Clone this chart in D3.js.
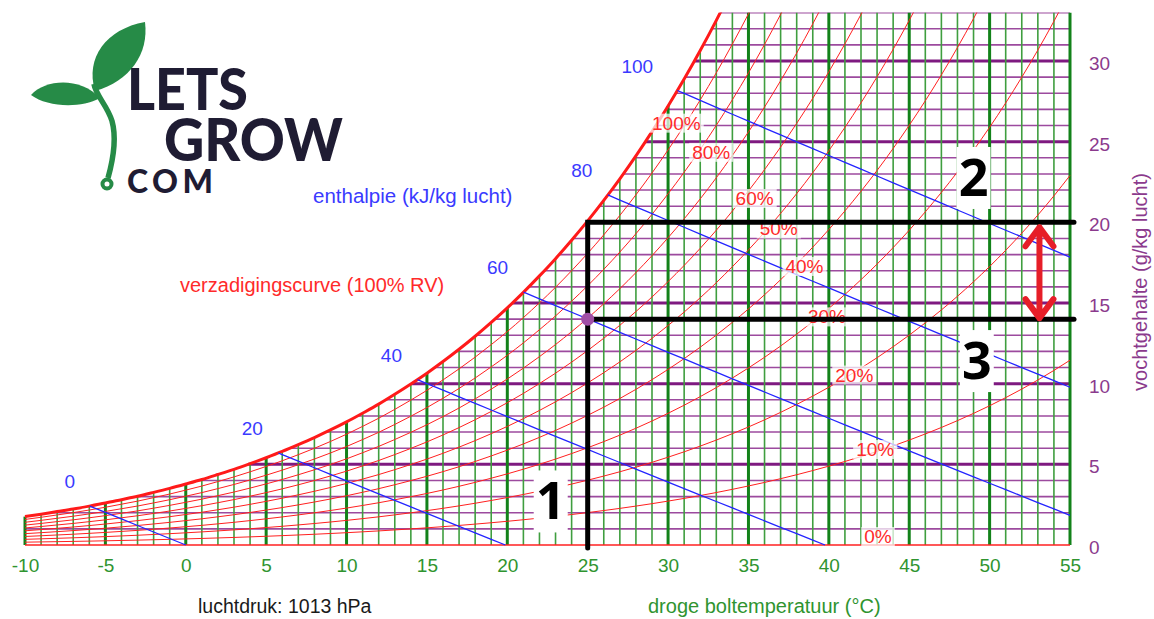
<!DOCTYPE html>
<html>
<head>
<meta charset="utf-8">
<script src="https://cdn.jsdelivr.net/npm/d3@7"></script>
<style>
  body { margin: 0; background: #fff; }
  svg { display: block; font-family: "Liberation Sans", Arial, sans-serif; }
</style>
</head>
<body>
<svg id="chart" width="1154" height="619"></svg>
<script>
// dry bulb temperatures of the 1 °C grid
var temps = d3.range(-10, 56);
// saturation humidity (g/kg) at 1013 hPa, one value per degree from -10 to 55
var satHumidity = [1.76,1.91,2.07,2.23,2.41,2.60,2.81,3.02,3.26,3.51,
  3.78,4.06,4.37,4.69,5.04,5.41,5.80,6.22,6.66,7.13,
  7.63,8.17,8.73,9.34,9.98,10.65,11.37,12.13,12.94,13.80,
  14.70,15.66,16.68,17.75,18.89,20.09,21.36,22.70,24.12,25.62,
  27.21,28.88,30.65,32.52,34.50,36.58,38.78,41.11,43.56,46.15,
  48.89,51.77,54.82,58.04,61.45,65.04,68.84,72.85,77.09,81.58,
  86.31,91.33,96.65,102.26,108.21,114.53];
var humGrid = d3.range(1, 34);            // g/kg lines
var rhLevels = [0, 10, 20, 30, 40, 50, 60, 70, 80, 90];
var enthalpyLevels = [0, 20, 40, 60, 80, 100];
var rhLabelLevels = [100, 80, 60, 50, 40, 30, 20, 10, 0];
var rhLabelTemps = [29.0, 31.5, 34.2, 35.7, 37.3, 38.7, 40.4, 41.7, 42.2];
var tempTicks = d3.range(-10, 56, 5);
var humTicks = [0, 5, 10, 15, 20, 25, 30];
// example: 25 °C air, saturated at 20 g/kg, actually holding 14 g/kg
var exTemp = 25, exSat = 20, exHum = 14, arrowTemp = 53.1;
var stepNames = ["1", "2", "3"];
var stepTemps = [22.7, 49.0, 49.2];
var stepHums = [2.7, 22.75, 11.4];

var svg = d3.select("#chart");
var x = d3.scaleLinear().domain([-10, 55]).range([25, 1070]);
var y = d3.scaleLinear().domain([0, 30]).range([545, 61]);
var topHum = 33;

function satAt(t) {
  var i = Math.max(0, Math.min(temps.length - 2, Math.floor(t + 10)));
  var f = t - temps[i];
  return satHumidity[i] + f * (satHumidity[i + 1] - satHumidity[i]);
}
function satTemp(w) {
  if (w <= satHumidity[0]) return -10;
  for (var i = 0; i < satHumidity.length - 1; i++) {
    if (w <= satHumidity[i + 1])
      return temps[i] + (w - satHumidity[i]) / (satHumidity[i + 1] - satHumidity[i]);
  }
  return 55;
}
// enthalpy per kg moist air -> humidity (g/kg) on a line of constant h
function enthHum(t, h) {
  return 1000 * (h - 1.006 * t) / (2501 + 1.86 * t - h);
}

svg.append("defs").append("clipPath").attr("id", "plot")
  .append("rect")
    .attr("x", x(-10) - 3).attr("y", y(topHum))
    .attr("width", x(55) - x(-10) + 6).attr("height", y(0) - y(topHum) + 3);

var plot = svg.append("g").attr("clip-path", "url(#plot)");

// humidity grid (purple)
plot.selectAll("line.hum")
  .data(humGrid)
  .enter().append("line")
    .attr("class", "hum")
    .attr("x1", function(d) { return x(satTemp(d)); })
    .attr("x2", x(55))
    .attr("y1", function(d) { return y(d); })
    .attr("y2", function(d) { return y(d); })
    .attr("stroke", function(d) { return d % 5 ? "#9c4a9e" : "#7e1a80"; })
    .attr("stroke-width", function(d) { return d % 5 ? 1.6 : 3; });

// temperature grid (green)
plot.selectAll("line.temp")
  .data(temps)
  .enter().append("line")
    .attr("class", "temp")
    .attr("x1", function(d) { return x(d); })
    .attr("x2", function(d) { return x(d); })
    .attr("y1", y(0))
    .attr("y2", function(d, i) { return y(Math.min(satHumidity[i], topHum)); })
    .attr("stroke", function(d) { return d % 5 ? "#3f9e3f" : "#13821a"; })
    .attr("stroke-width", function(d) { return d % 5 ? 1.6 : 3; });

// relative humidity curves
var curve = d3.line()
  .x(function(d, i) { return x(temps[i]); })
  .y(function(d) { return y(d); })
  .curve(d3.curveMonotoneX);

plot.selectAll("path.rh")
  .data(rhLevels)
  .enter().append("path")
    .attr("class", "rh")
    .attr("d", function(rh) { return curve(satHumidity.map(function(s) { return s * rh / 100; })); })
    .attr("fill", "none")
    .attr("stroke", "#ff2020")
    .attr("stroke-width", function(rh) { return rh === 0 ? 1.6 : 1; });

plot.append("path")
  .attr("d", curve(satHumidity))
  .attr("fill", "none")
  .attr("stroke", "#ff1a1a")
  .attr("stroke-width", 3);

// enthalpy lines
var enthLines = enthalpyLevels.map(function(h) {
  var lo = -10, hi = 55;
  for (var k = 0; k < 50; k++) {
    var mid = (lo + hi) / 2;
    if (satAt(mid) > enthHum(mid, h)) hi = mid; else lo = mid;
  }
  var t0 = lo;
  var t1 = Math.min(55, h / 1.006);
  var pts = [[t0, enthHum(t0, h)]];
  temps.forEach(function(t) { if (t > t0 && t < t1) pts.push([t, enthHum(t, h)]); });
  pts.push([t1, Math.max(0, enthHum(t1, h))]);
  return { h: h, start: pts[0], pts: pts };
});

plot.selectAll("path.enth")
  .data(enthLines)
  .enter().append("path")
    .attr("class", "enth")
    .attr("d", function(d) {
      return d3.line().x(function(p) { return x(p[0]); }).y(function(p) { return y(p[1]); })(d.pts);
    })
    .attr("fill", "none")
    .attr("stroke", "#2424ff")
    .attr("stroke-width", 1.3);

svg.selectAll("text.enth")
  .data(enthLines)
  .enter().append("text")
    .attr("class", "enth")
    .attr("x", function(d) { return x(d.start[0]) - (d.h >= 100 ? 40 : d.h === 0 ? 20 : 26); })
    .attr("y", function(d) { return y(d.start[1]) - 18; })
    .attr("text-anchor", "middle")
    .attr("font-size", 19)
    .attr("fill", "#3a3aff")
    .text(function(d) { return d.h; });

// RH labels on white boxes
var rhLab = svg.selectAll("g.rhlab")
  .data(rhLabelLevels)
  .enter().append("g")
    .attr("class", "rhlab")
    .attr("transform", function(rh, i) {
      var t = rhLabelTemps[i];
      return "translate(" + x(t) + "," + (y(satAt(t) * rh / 100) - 2) + ")";
    });
rhLab.append("text")
  .attr("font-size", 19)
  .attr("fill", "#ff2a2a")
  .text(function(rh) { return rh + "%"; });
rhLab.each(function() {
  var g = d3.select(this), b = g.select("text").node().getBBox();
  g.insert("rect", "text")
    .attr("x", b.x - 3).attr("y", b.y + 1)
    .attr("width", b.width + 6).attr("height", b.height - 2)
    .attr("fill", "#fff").attr("fill-opacity", 0.72);
});

// step numbers
var steps = svg.selectAll("g.step")
  .data(stepNames)
  .enter().append("g")
    .attr("class", "step")
    .attr("transform", function(d, i) { return "translate(" + x(stepTemps[i]) + "," + y(stepHums[i]) + ")"; });
steps.append("rect")
  .attr("x", -17).attr("y", -31).attr("width", 34).attr("height", 62)
  .attr("fill", "#fff");
steps.append("text")
  .attr("text-anchor", "middle")
  .attr("y", 18)
  .attr("font-family", "'Open Sans', sans-serif")
  .attr("font-weight", 700)
  .attr("font-size", 52)
  .attr("fill", "#000")
  .text(function(d) { return d; });

// example lines
svg.append("path")
  .attr("d", "M" + x(exTemp) + "," + (y(0) + 3) + "V" + y(exSat) + "H" + (x(55) + 4))
  .attr("fill", "none").attr("stroke", "#000").attr("stroke-width", 5)
  .attr("stroke-linecap", "round");
svg.append("line")
  .attr("x1", x(exTemp)).attr("x2", x(55) + 4)
  .attr("y1", y(exHum)).attr("y2", y(exHum))
  .attr("stroke", "#000").attr("stroke-width", 5).attr("stroke-linecap", "round");
svg.append("circle")
  .attr("cx", x(exTemp)).attr("cy", y(exHum)).attr("r", 6.5)
  .attr("fill", "#a14fa6");

var ax = x(arrowTemp), aTop = y(exSat) + 5, aBot = y(exHum) - 1;
svg.append("path")
  .attr("d", "M" + ax + "," + aTop + "V" + aBot +
    "M" + (ax - 14) + "," + (aTop + 19) + "L" + ax + "," + aTop + "L" + (ax + 14) + "," + (aTop + 19) +
    "M" + (ax - 14) + "," + (aBot - 19) + "L" + ax + "," + aBot + "L" + (ax + 14) + "," + (aBot - 19))
  .attr("fill", "none").attr("stroke", "#e61e28").attr("stroke-width", 6)
  .attr("stroke-linecap", "round").attr("stroke-linejoin", "round");

// axes
var xAxis = svg.append("g")
  .attr("transform", "translate(0," + y(0) + ")")
  .call(d3.axisBottom(x).tickValues(tempTicks).tickSize(0).tickPadding(14)
    .tickFormat(function(d) { return String(d); }));
xAxis.select(".domain").remove();
xAxis.selectAll("text").attr("font-size", 19).attr("fill", "#2f942f")
  .attr("font-family", "'Liberation Sans', Arial, sans-serif");

var yAxis = svg.append("g")
  .attr("transform", "translate(" + x(55) + ",0)")
  .call(d3.axisRight(y).tickValues(humTicks).tickSize(0).tickPadding(19));
yAxis.select(".domain").remove();
yAxis.selectAll("text").attr("font-size", 19).attr("fill", "#8b3a8d").attr("dy", "0.45em")
  .attr("font-family", "'Liberation Sans', Arial, sans-serif");

svg.append("text").attr("x", 198).attr("y", 613).attr("font-size", 19.5)
  .attr("fill", "#1a1a1a").text("luchtdruk: 1013 hPa");
svg.append("text").attr("x", 648).attr("y", 613).attr("font-size", 20)
  .attr("fill", "#2f942f").text("droge boltemperatuur (°C)");
svg.append("text").attr("transform", "translate(1147,282) rotate(-90)")
  .attr("text-anchor", "middle").attr("font-size", 20)
  .attr("fill", "#8b3a8d").text("vochtgehalte (g/kg lucht)");
svg.append("text").attr("x", 313).attr("y", 203).attr("font-size", 20.5)
  .attr("fill", "#3a3aff").text("enthalpie (kJ/kg lucht)");
svg.append("text").attr("x", 180).attr("y", 292).attr("font-size", 20)
  .attr("fill", "#ff2a2a").text("verzadigingscurve (100% RV)");

// logo
var logo = svg.append("g");
logo.append("path")
  .attr("d", "M95,91 C85,58 106,29 145,22 C149,54 130,81 95,91 Z")
  .attr("fill", "#268b47");
logo.append("path")
  .attr("d", "M31,95 C46,79 80,77 100,98 C80,109 47,107 31,95 Z")
  .attr("fill", "#268b47");
logo.append("path")
  .attr("d", "M94,84 C96,96 107,105 112,121 C117,139 113,160 108,178")
  .attr("fill", "none").attr("stroke", "#268b47").attr("stroke-width", 5.5);
logo.append("circle")
  .attr("cx", 107).attr("cy", 184).attr("r", 4.5)
  .attr("fill", "#fff").attr("stroke", "#268b47").attr("stroke-width", 4);
var word = logo.append("text")
  .attr("font-family", "Lato, sans-serif").attr("font-weight", 900)
  .attr("fill", "#1f1c33");
word.append("tspan").attr("x", 127).attr("y", 110).attr("font-size", 58)
  .attr("textLength", 121).attr("lengthAdjust", "spacingAndGlyphs").text("LETS");
word.append("tspan").attr("x", 164).attr("y", 161).attr("font-size", 59)
  .attr("textLength", 179).attr("lengthAdjust", "spacingAndGlyphs").text("GROW");
word.append("tspan").attr("x", 127).attr("y", 193).attr("font-size", 32)
  .attr("textLength", 86).attr("lengthAdjust", "spacing").text("COM");
</script>
</body>
</html>
